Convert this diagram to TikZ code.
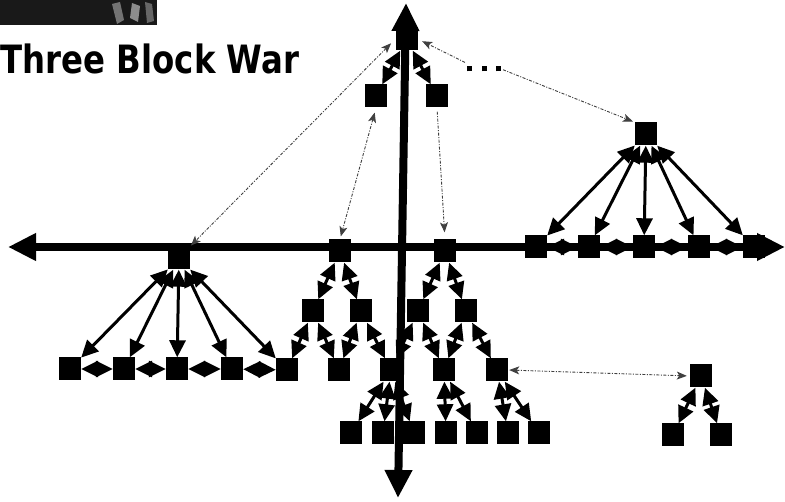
\documentclass[tikz,border=0pt]{standalone}
\usepackage{fontspec}
\usepackage{graphicx}
\newfontfamily\titlefont{DejaVu Sans}
\usetikzlibrary{arrows.meta}
\begin{document}
\begin{tikzpicture}[x=1pt,y=-1pt,
  blk/.style={fill=black,inner sep=0pt,minimum width=22pt,minimum height=23pt},
  link/.style={line width=3pt,{Triangle[length=17pt 0,width=16pt 0]}-{Triangle[length=17pt 0,width=16pt 0]}},
  axisline/.style={line width=8pt,{Triangle[length=28pt 0,width=26pt 0]}-{Triangle[length=28pt 0,width=26pt 0]}},
  dtip/.tip={Stealth[length=10pt,width=8pt,inset=2.5pt]},
  dlink/.style={line width=0.9pt,draw=black!75,dash pattern=on 3pt off 1.5pt on 1pt off 1.5pt}
]
\useasboundingbox (0,0) rectangle (785,502);
% photo strip
\fill[black!90] (0,0) rectangle (157,25);
\fill[black!55] (112,4) -- (120,2) -- (124,20) -- (117,24) -- cycle;
\fill[black!45] (132,3) -- (140,6) -- (138,22) -- (130,18) -- cycle;
\fill[black!60] (145,2) -- (152,4) -- (154,21) -- (147,23) -- cycle;
% title
\node[anchor=base west,inner sep=0pt] (title) at (0.5,74)
  {\scalebox{0.83}[1]{\fontsize{39pt}{40pt}\selectfont\titlefont\bfseries Three Block War}};
% axes
\coordinate (axL) at (8,247);
\coordinate (axR) at (785,247);
\coordinate (axT) at (406,3);
\coordinate (axB) at (398,498);
\draw[axisline] (axL) -- (axR);
\draw[axisline] (axB) -- (axT);
% nodes
\node[blk] (top) at (406.5,39) {};
\node[blk] (lc) at (376,96) {};
\node[blk] (rc) at (437,96) {};
\node[blk] (rroot) at (646,134) {};
\node[blk] (r1) at (536,247) {};
\node[blk] (r2) at (589,247) {};
\node[blk] (r3) at (644,247) {};
\node[blk] (r4) at (699,247) {};
\node[blk] (r5) at (754,247) {};
\node[blk] (lroot) at (179,258) {};
\node[blk] (l1) at (70,369) {};
\node[blk] (l2) at (124,369) {};
\node[blk] (l3) at (177,369) {};
\node[blk] (l4) at (232,369) {};
\node[blk] (l5) at (287,370) {};
\node[blk] (mlroot) at (340,251) {};
\node[blk] (mrroot) at (445,251) {};
\node[blk] (t21) at (313,311) {};
\node[blk] (t22) at (361,311) {};
\node[blk] (t23) at (418,311) {};
\node[blk] (t24) at (466,311) {};
\node[blk] (t32) at (339,370) {};
\node[blk] (t33) at (391,370) {};
\node[blk] (t34) at (444,370) {};
\node[blk] (t35) at (497,370) {};
\node[blk] (b1) at (351,433) {};
\node[blk] (b2) at (383,433) {};
\node[blk] (b3) at (414,433) {};
\node[blk] (b4) at (446,433) {};
\node[blk] (b5) at (477,433) {};
\node[blk] (b6) at (508,433) {};
\node[blk] (b7) at (539,433) {};
\node[blk] (fr) at (701,376) {};
\node[blk] (fr1) at (673,435) {};
\node[blk] (fr2) at (721,435) {};
\node[inner sep=0pt,minimum height=11pt,minimum width=34pt] (dots) at (484,69)
  {\rule{5pt}{5pt}\hspace{9.5pt}\rule{5pt}{5pt}\hspace{9.5pt}\rule{5pt}{5pt}};
% solid links
\draw[link] (top) -- (lc);
\draw[link] (top) -- (rc);
\foreach \n in {r1,r2,r3,r4,r5} \draw[link] (rroot) -- (\n);
\draw[link] (r1) -- (r2);
\draw[link] (r2) -- (r3);
\draw[link] (r3) -- (r4);
\draw[link] (r4) -- (r5);
\foreach \n in {l1,l2,l3,l4,l5} \draw[link] (lroot) -- (\n);
\draw[link] (l1) -- (l2);
\draw[link] (l2) -- (l3);
\draw[link] (l3) -- (l4);
\draw[link] (l4) -- (l5);
\draw[link] (mlroot) -- (t21);
\draw[link] (mlroot) -- (t22);
\draw[link] (mrroot) -- (t23);
\draw[link] (mrroot) -- (t24);
\draw[link] (t21) -- (l5);
\draw[link] (t21) -- (t32);
\draw[link] (t22) -- (t32);
\draw[link] (t22) -- (t33);
\draw[link] (t23) -- (t33);
\draw[link] (t23) -- (t34);
\draw[link] (t24) -- (t34);
\draw[link] (t24) -- (t35);
\draw[link] (t33) -- (b1);
\draw[link] (t33) -- (b2);
\draw[link] (t33) -- (b3);
\draw[link] (t34) -- (b4);
\draw[link] (t34) -- (b5);
\draw[link] (t35) -- (b6);
\draw[link] (t35) -- (b7);
\draw[link] (fr) -- (fr1);
\draw[link] (fr) -- (fr2);
% dashed links
\draw[dlink,dtip-dtip,shorten <=6pt,shorten >=1pt] (top.west) -- (lroot.north east);
\draw[dlink,-dtip,shorten <=2pt,shorten >=5pt] (dots.north west) -- (top.east);
\draw[dlink,-dtip,shorten <=2pt,shorten >=2pt] (dots.east) -- (rroot.north west);
\draw[dlink,dtip-dtip,shorten <=5pt,shorten >=3pt] (lc.south) -- (mlroot.north);
\draw[dlink,-dtip,shorten <=4pt,shorten >=7pt] (rc.south) -- (mrroot.north);
\draw[dlink,dtip-dtip,shorten <=1pt,shorten >=3pt] (t35.east) -- (fr.west);
\end{tikzpicture}
\end{document}
